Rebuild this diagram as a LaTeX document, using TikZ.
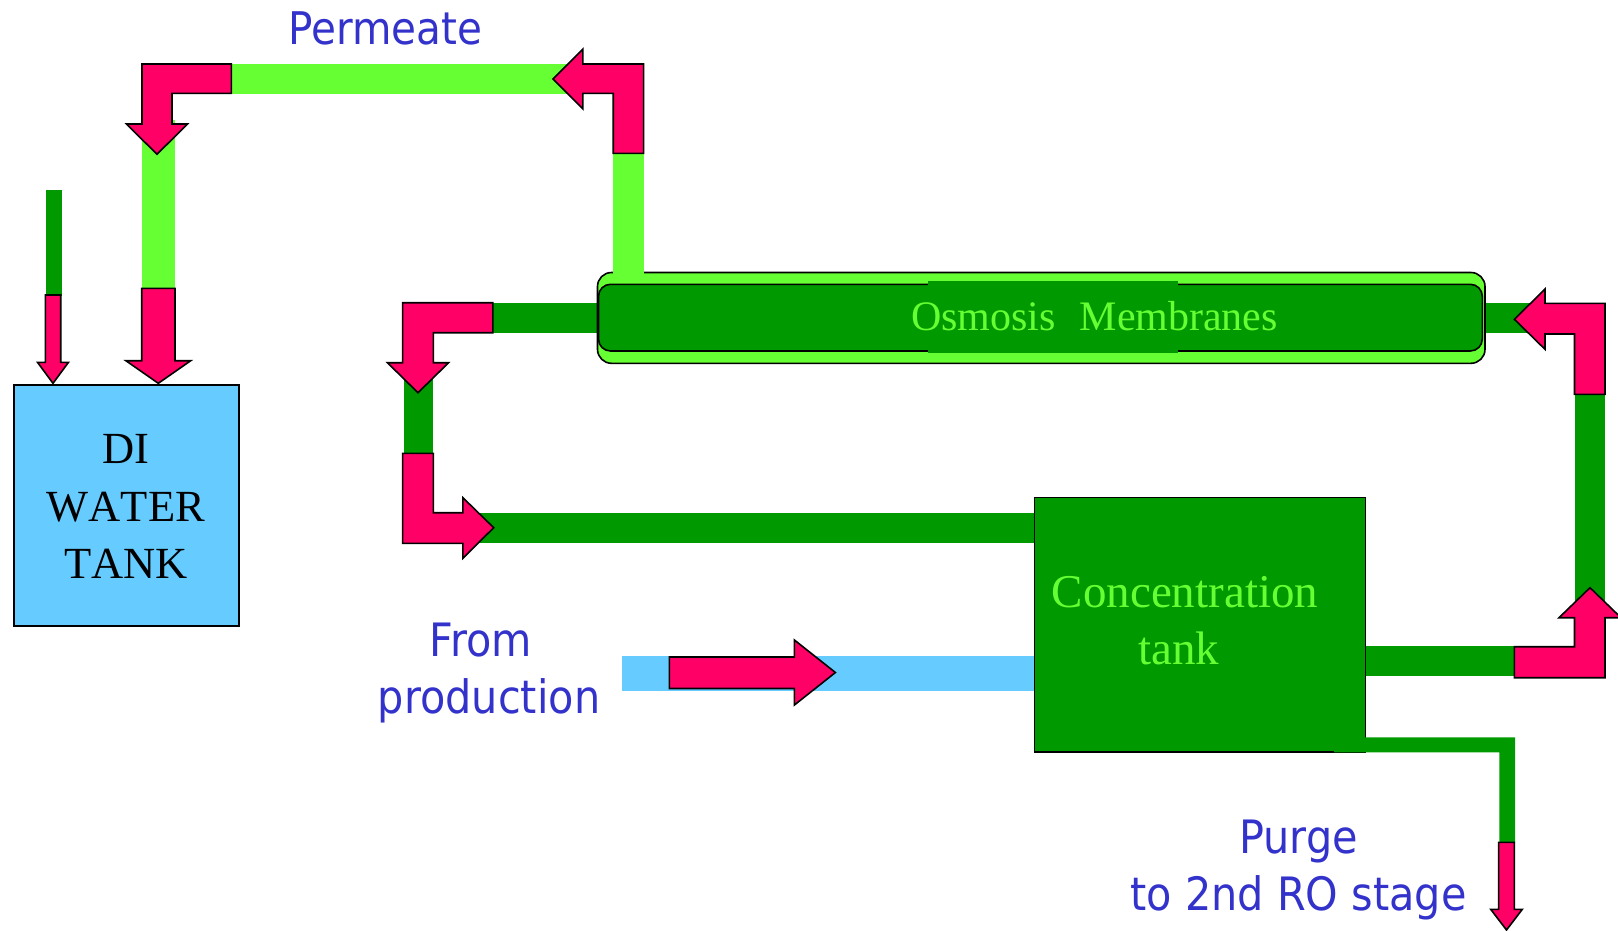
\documentclass[tikz,border=0pt]{standalone}
\usepackage{fontspec}
\newfontfamily\serifA[Kerning=Off]{Liberation Serif}
\newfontfamily\sansA[FakeStretch=0.9]{DejaVu Sans}
\definecolor{arrowpink}{HTML}{FF0066}
\definecolor{dgreen}{HTML}{009900}
\definecolor{lgreen}{HTML}{66FF33}
\definecolor{lblue}{HTML}{66CCFF}
\definecolor{tblue}{HTML}{3333CC}
\begin{document}
\begin{tikzpicture}[x=1pt,y=-1pt,
  blockarrow/.style={fill=arrowpink, draw=black, line width=1.6pt, line join=miter},
  tankbox/.style={draw=black, line width=1.7pt, inner sep=0pt, anchor=north west},
  bluelabel/.style={text=tblue, font=\sansA\fontsize{46}{50}\selectfont, inner sep=0pt, anchor=base},
  blacklabel/.style={text=black, font=\serifA\fontsize{44.5}{50}\selectfont, inner sep=0pt, anchor=base},
  greenlabel/.style={text=lgreen, font=\serifA\fontsize{47}{50}\selectfont, inner sep=0pt, anchor=base}]
\useasboundingbox (0,0) rectangle (1618,930);

% ---------- light green (permeate) pipes ----------
\fill[lgreen] (142,120) rectangle (175,290);
\fill[lgreen] (171,64) rectangle (613.3,94.3);

% ---------- dark green pipes ----------
\fill[dgreen] (46,190) rectangle (61.7,296);
\fill[dgreen] (470,303) rectangle (598,333);
\fill[dgreen] (403.5,360) rectangle (433.2,456);
\fill[dgreen] (460,512.5) rectangle (1034,542.7);
\fill[dgreen] (1484,303) rectangle (1576,333);
\fill[dgreen] (1574.5,390) rectangle (1605,620);
\fill[dgreen] (1364,646) rectangle (1516,676);

% ---------- light blue pipe ----------
\fill[lblue] (622,656) rectangle (1034,690.7);

% ---------- membrane ----------
\draw[line width=1.6pt, fill=lgreen, rounded corners=14pt] (597.5,272.5) rectangle (1485,363.3);
\fill[lgreen] (613.3,150) rectangle (643.5,282);
\draw[line width=1.6pt, fill=dgreen, rounded corners=12pt] (598.5,284.3) rectangle (1482.3,351);
\fill[dgreen] (928,280.7) rectangle (1177.5,352.7);
\node[greenlabel, font=\serifA\fontsize{42}{50}\selectfont] (memtext) at (1094.5,330) {Osmosis\hspace{24pt}Membranes};

% ---------- tanks ----------
\node[tankbox, fill=lblue, minimum width=225pt, minimum height=241pt] (ditank) at (13.3,384) {};
\node[blacklabel] (di1) at (125.8,463.3) {DI};
\node[blacklabel] (di2) at (125.8,521.7) {WATER};
\node[blacklabel] (di3) at (125.8,578.3) {TANK};

\node[tankbox, fill=dgreen, minimum width=331pt, minimum height=254.3pt] (conctank) at (1033.5,496.7) {};
\node[greenlabel] (ct1) at (1185,607.3) {Concentration};
\node[greenlabel] (ct2) at (1179,664) {tank};

% purge pipe over tank corner
\fill[dgreen] (1334,737.3) -- (1515.2,737.3) -- (1515.2,843) -- (1499.4,843) -- (1499.4,752.3) -- (1334,752.3) -- cycle;

% ---------- block arrows ----------
% top-left: left then down
\draw[blockarrow] (142,64) -- (231.4,64) -- (231.4,93.3) -- (172,93.3) -- (172,124) -- (187.5,124) -- (157,154.3) -- (126.5,124) -- (142,124) -- cycle;
% top-right: up then left
\draw[blockarrow] (552.9,79) -- (582.9,49) -- (582.9,64) -- (643.6,64) -- (643.6,153.3) -- (613.2,153.3) -- (613.2,93.3) -- (582.9,93.3) -- (582.9,109) -- cycle;
% small down arrow
\draw[blockarrow] (45.3,295) -- (60.7,295) -- (60.7,362.3) -- (68.5,362.3) -- (53,383.3) -- (37.5,362.3) -- (45.3,362.3) -- cycle;
% big down arrow into DI tank
\draw[blockarrow] (141.7,288.3) -- (175,288.3) -- (175,360.7) -- (190.7,360.7) -- (158.3,383.3) -- (125.9,360.7) -- (141.7,360.7) -- cycle;
% membrane left: left then down
\draw[blockarrow] (402.6,302.7) -- (492.8,302.7) -- (492.8,332.7) -- (433.4,332.7) -- (433.4,362.7) -- (448.6,362.7) -- (418,392.7) -- (387.4,362.7) -- (402.6,362.7) -- cycle;
% lower left: down then right
\draw[blockarrow] (402.6,453.3) -- (433.4,453.3) -- (433.4,512.7) -- (462.9,512.7) -- (462.9,497.7) -- (493.7,527.7) -- (462.9,558.3) -- (462.9,543.3) -- (402.6,543.3) -- cycle;
% membrane right: up then left
\draw[blockarrow] (1514.4,319.3) -- (1545,289) -- (1545,303.3) -- (1605,303.3) -- (1605,394.3) -- (1574.5,394.3) -- (1574.5,334) -- (1545,334) -- (1545,349.3) -- cycle;
% lower right: right then up
\draw[blockarrow] (1514.3,677.7) -- (1514.3,646.7) -- (1574.5,646.7) -- (1574.5,617.7) -- (1559,617.7) -- (1590,587.7) -- (1621,617.7) -- (1605,617.7) -- (1605,677.7) -- cycle;
% from production
\draw[blockarrow] (669.4,657) -- (794.4,657) -- (794.4,640) -- (835.4,672.5) -- (794.4,705) -- (794.4,688.5) -- (669.4,688.5) -- cycle;
% purge arrow
\draw[blockarrow] (1498.6,842.3) -- (1514.4,842.3) -- (1514.4,909.3) -- (1522.3,909.3) -- (1506.5,930) -- (1490.7,909.3) -- (1498.6,909.3) -- cycle;

% ---------- blue labels ----------
\node[bluelabel, font=\sansA\fontsize{45}{50}\selectfont] (perm) at (385.5,44.3) {Permeate};
\node[bluelabel] (from1) at (481,656.7) {From};
\node[bluelabel] (from2) at (489,713.3) {production};
\node[bluelabel] (purge1) at (1298.5,853) {Purge};
\node[bluelabel] (purge2) at (1298.5,910) {to 2nd RO stage};
\end{tikzpicture}
\end{document}
